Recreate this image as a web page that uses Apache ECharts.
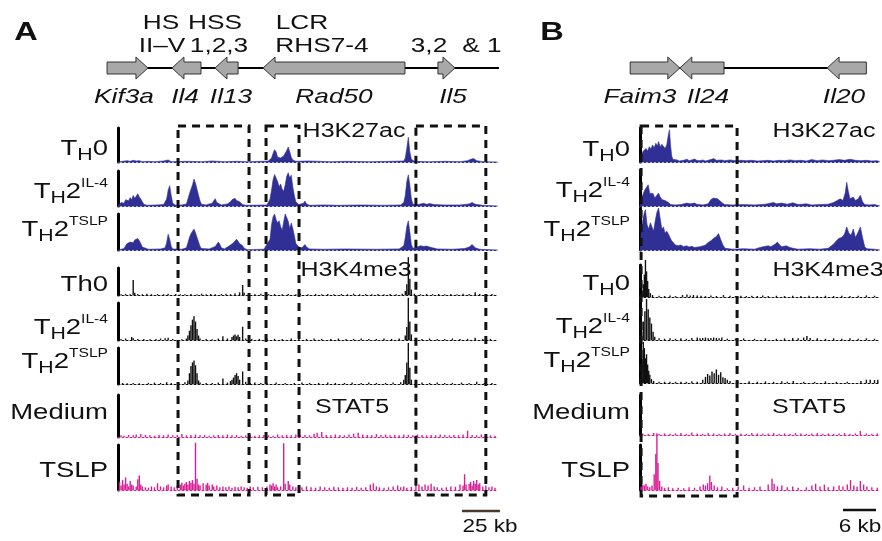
<!DOCTYPE html>
<html>
<head>
<meta charset="utf-8">
<script src="https://cdn.jsdelivr.net/npm/echarts@6/dist/echarts.min.js"></script>
<style>
html, body { margin: 0; padding: 0; background: #fff; }
#c { width: 882px; height: 541px; }
</style>
</head>
<body>
<div id="c"></div>
<script>
// ---- panel A (Il4/Il13/Rad50/Il5 locus), x in kb, y in % of track height ----
var A_K27_TH0 = [[0,0],[3,2],[6,4],[8,2],[10,5],[12,3],[14,4],[16,1],[20,2],[24,1],[30,3],[33,6],[35,1],[45,2],[55,1],[62,3],[70,1],[78,2],[85,1],[95,2],[99,3],[101,12],[102,25],[103,36],[104,30],[105,14],[106,16],[107,12],[109,18],[110,22],[111,34],[112,44],[113,30],[114,14],[115,6],[117,2],[125,3],[140,1],[150,2],[165,1],[180,2],[188,3],[189,12],[190,40],[191,73],[192,30],[193,8],[195,2],[205,1],[215,2],[225,1],[230,4],[232,8],[234,10],[236,4],[240,1],[250,0]];
var A_K27_IL4 = [[0,0],[1,3],[2,10],[3,14],[4,8],[5,18],[6,22],[7,15],[8,24],[9,18],[10,30],[11,22],[12,28],[13,35],[14,26],[15,20],[16,12],[17,5],[19,2],[25,3],[30,4],[32,20],[33,45],[34,58],[35,30],[36,8],[38,2],[42,3],[45,6],[46,20],[47,35],[48,48],[49,60],[50,77],[51,65],[52,48],[53,30],[54,14],[55,5],[58,3],[60,6],[62,8],[63,15],[64,21],[65,10],[66,5],[68,3],[72,6],[74,12],[75,18],[76,14],[77,22],[78,16],[79,20],[80,12],[81,8],[82,4],[84,2],[98,3],[100,20],[101,45],[102,75],[103,90],[104,95],[105,70],[106,55],[107,63],[108,48],[109,42],[110,60],[111,85],[112,95],[113,80],[114,88],[115,55],[116,30],[117,12],[119,4],[122,8],[123,14],[124,6],[126,2],[135,3],[145,2],[160,3],[175,2],[186,3],[188,10],[189,30],[190,70],[191,89],[192,60],[193,20],[194,6],[196,3],[199,6],[201,8],[203,5],[205,7],[208,4],[215,3],[225,3],[231,6],[233,10],[235,5],[240,2],[250,0]];
var A_K27_TSLP = [[0,0],[4,4],[5,12],[6,18],[7,14],[8,22],[9,26],[10,20],[11,28],[12,24],[13,32],[14,26],[15,18],[16,8],[17,3],[20,2],[28,3],[31,6],[32,20],[33,44],[34,30],[35,10],[36,3],[42,2],[45,6],[46,20],[47,35],[48,45],[49,52],[50,58],[51,48],[52,35],[53,22],[54,10],[55,4],[60,3],[64,10],[66,22],[67,16],[68,6],[70,3],[72,8],[74,14],[76,20],[77,25],[78,30],[79,24],[80,18],[81,22],[82,12],[83,5],[85,1],[96,2],[100,30],[101,70],[102,92],[103,100],[104,85],[105,75],[106,81],[107,65],[108,55],[109,78],[110,100],[111,95],[112,80],[113,60],[114,75],[115,60],[116,40],[117,18],[119,8],[121,6],[123,15],[124,8],[126,3],[135,2],[150,3],[170,2],[185,3],[188,12],[189,35],[190,65],[191,81],[192,50],[193,15],[194,5],[197,8],[199,12],[201,10],[203,11],[205,8],[207,6],[210,3],[220,2],[228,4],[231,8],[233,15],[235,6],[238,2],[250,0]];
var A_K4_TH0 = [[2,3],[5,4],[8,3],[10,56],[11,8],[13,4],[16,3],[19,5],[22,3],[26,4],[30,3],[33,5],[38,4],[41,3],[44,3],[48,4],[52,3],[55,5],[58,3],[61,4],[64,3],[68,4],[71,5],[74,3],[77,6],[80,10],[82,37],[83,8],[86,4],[90,3],[94,5],[99,3],[103,4],[108,3],[112,4],[117,3],[120,5],[125,3],[130,4],[134,3],[138,4],[142,3],[147,4],[151,3],[155,5],[159,3],[163,4],[167,3],[171,4],[175,3],[179,4],[183,3],[187,5],[189,15],[190,40],[191,140],[192,60],[193,20],[195,5],[199,3],[203,4],[207,3],[211,4],[215,3],[219,4],[223,3],[227,5],[231,4],[235,10],[238,4],[242,3],[246,4]];
var A_K4_IL4 = [[2,3],[5,4],[9,8],[10,5],[13,3],[17,3],[21,2],[25,3],[28,4],[31,5],[33,6],[36,3],[42,2],[45,4],[46,12],[47,25],[48,40],[49,55],[50,64],[51,50],[52,30],[53,12],[54,4],[58,3],[62,2],[66,4],[69,10],[72,4],[75,8],[76,12],[77,15],[78,10],[79,14],[80,8],[82,36],[84,4],[88,3],[93,3],[98,4],[103,3],[108,3],[114,4],[119,3],[124,3],[129,4],[134,3],[140,3],[145,4],[150,3],[155,3],[160,4],[165,3],[170,3],[175,4],[180,3],[185,4],[189,12],[190,35],[191,114],[192,50],[193,15],[196,4],[200,3],[205,4],[210,3],[215,3],[220,4],[225,3],[230,3],[235,6],[240,3],[245,3]];
var A_K4_TSLP = [[3,3],[6,2],[10,3],[14,2],[20,3],[24,4],[28,3],[32,5],[35,3],[40,3],[44,5],[46,10],[47,30],[48,50],[49,60],[50,65],[51,52],[52,30],[53,10],[54,4],[58,3],[62,3],[66,4],[69,15],[72,4],[74,8],[75,12],[76,18],[77,25],[78,30],[79,22],[80,12],[82,35],[84,6],[87,3],[90,4],[94,3],[98,3],[104,4],[110,3],[116,3],[121,4],[126,3],[132,3],[138,4],[143,3],[149,3],[154,4],[160,3],[165,4],[170,3],[176,3],[181,4],[186,5],[188,12],[189,25],[190,60],[191,114],[192,45],[193,12],[196,4],[200,4],[205,3],[210,4],[215,3],[220,3],[226,4],[231,3],[236,6],[241,3],[246,3]];
var A_STAT5_MED = [[2,4],[4,3],[7,5],[10,4],[12,6],[15,7],[18,5],[21,4],[24,3],[27,5],[30,4],[33,6],[36,4],[39,5],[42,7],[45,4],[48,5],[51,6],[54,4],[57,5],[60,3],[63,4],[66,5],[69,4],[72,6],[75,4],[78,5],[81,3],[84,4],[87,5],[90,3],[93,4],[96,5],[99,4],[102,3],[105,6],[108,4],[111,5],[114,4],[117,6],[120,4],[123,5],[126,4],[129,8],[131,10],[134,12],[137,5],[140,4],[143,6],[146,5],[149,4],[152,6],[155,8],[158,10],[161,6],[164,5],[167,4],[170,7],[173,5],[176,6],[179,4],[182,5],[185,4],[188,6],[191,5],[194,4],[197,6],[200,5],[203,4],[206,5],[209,4],[212,6],[215,5],[218,4],[221,5],[224,4],[227,6],[230,15],[233,5],[236,4],[239,6],[242,5],[245,4],[248,3]];
var A_STAT5_TSLP = [[1,18],[2,10],[3,22],[4,12],[5,28],[6,14],[7,8],[8,20],[9,12],[10,10],[12,8],[13,24],[14,32],[15,12],[16,8],[18,6],[20,5],[22,8],[24,6],[26,15],[28,8],[30,6],[32,10],[33,12],[35,8],[37,6],[39,10],[41,12],[42,16],[43,10],[44,14],[45,18],[46,12],[47,20],[48,16],[49,22],[50,14],[51,105],[52,25],[53,12],[54,10],[56,15],[58,12],[59,16],[60,10],[62,12],[63,8],[65,10],[67,6],[69,8],[71,6],[73,8],[75,5],[77,7],[79,6],[81,8],[83,6],[85,5],[87,8],[89,6],[92,7],[95,6],[98,8],[100,12],[101,10],[102,15],[103,8],[104,12],[105,6],[107,8],[109,104],[110,14],[112,20],[113,12],[115,8],[117,6],[119,10],[121,6],[124,8],[127,6],[130,5],[133,8],[136,6],[139,5],[142,7],[145,6],[148,5],[151,6],[154,5],[157,7],[160,5],[163,6],[166,12],[168,15],[170,8],[172,6],[175,5],[178,6],[181,8],[184,10],[186,6],[188,8],[190,5],[193,7],[196,10],[198,12],[200,8],[202,12],[204,10],[206,14],[208,8],[210,6],[213,5],[216,6],[219,8],[222,7],[225,12],[227,10],[228,35],[229,12],[231,14],[232,18],[233,10],[234,20],[235,14],[236,22],[237,12],[238,15],[240,8],[242,10],[244,6],[246,8],[248,5]];

// ---- panel B (Faim3/Il24/Il20 locus) ----
var B_K27_TH0 = [[0,0],[0.2,15],[0.5,30],[0.8,35],[1.1,40],[1.4,32],[1.7,45],[2.0,38],[2.3,50],[2.6,42],[2.9,55],[3.2,48],[3.4,60],[3.7,45],[4.0,52],[4.3,55],[4.6,40],[4.9,50],[5.2,80],[5.4,95],[5.6,50],[5.8,20],[6.0,8],[6.3,3],[6.8,6],[7.2,3],[8,5],[8.6,8],[9,4],[9.5,6],[10,9],[10.4,5],[11,4],[11.5,6],[12,3],[13,7],[13.5,10],[14,5],[15,6],[15.5,4],[16.5,6],[17.5,4],[18.5,5],[19.5,4],[20.5,5],[21.5,3],[22.5,4],[23.5,5],[24.5,3],[25.5,5],[26.5,4],[27.5,6],[28.5,4],[29.5,5],[30.5,3],[31.5,7],[32.5,4],[33.5,6],[34.5,4],[35.5,5],[36.5,7],[37.5,5],[38.5,8],[39.5,5],[40.5,4],[41.5,5],[42.5,3],[43.5,4],[44,0]];
var B_K27_IL4 = [[0,0],[0.3,20],[0.6,35],[0.9,45],[1.2,40],[1.5,59],[1.8,35],[2.1,30],[2.4,35],[2.7,22],[3.0,28],[3.4,36],[3.7,25],[4.0,18],[4.3,22],[4.6,15],[4.9,20],[5.2,10],[5.6,4],[6.5,3],[7.5,4],[8.6,8],[9.2,6],[10,8],[10.4,5],[11.5,3],[12.5,6],[13,18],[13.5,22],[13.8,27],[14.2,20],[14.6,15],[15,10],[15.5,4],[17,3],[19,4],[21,3],[23,5],[24.5,10],[25,6],[26,8],[27,5],[28,9],[29,4],[30.5,6],[31.5,3],[33,4],[34.5,5],[35.5,10],[36,14],[36.7,20],[37.2,15],[37.6,35],[37.9,66],[38.2,40],[38.5,20],[39.1,25],[39.5,15],[40,20],[40.4,30],[40.8,12],[41.2,4],[42,3],[43,4],[44,0]];
var B_K27_TSLP = [[0,0],[0.2,40],[0.5,70],[0.8,90],[1.0,96],[1.3,60],[1.6,50],[1.9,65],[2.2,55],[2.5,45],[2.8,70],[3.1,90],[3.4,100],[3.7,75],[4.0,50],[4.3,55],[4.6,40],[4.9,45],[5.2,38],[5.5,30],[5.8,22],[6.1,18],[6.5,12],[7,10],[7.5,12],[8,8],[8.5,10],[9,7],[9.5,9],[10,6],[11,8],[11.6,10],[12,12],[12.5,18],[13,22],[13.5,28],[14,32],[14.4,39],[14.8,25],[15.2,12],[15.6,4],[17,2],[19,3],[21,2],[22,6],[22.6,8],[23.5,10],[24,8],[24.8,14],[25.2,19],[25.6,12],[26,8],[26.8,10],[27.5,6],[28.1,4],[29,2],[31,3],[33,2],[34.5,4],[35.5,14],[36,22],[36.5,28],[37,30],[37.5,38],[37.9,55],[38.3,40],[38.7,35],[39.1,50],[39.5,30],[39.9,40],[40.4,55],[40.8,30],[41.2,8],[41.6,3],[43,2],[44,0]];
var B_K4_TH0 = [[0.4,20],[0.6,40],[0.8,70],[1.0,116],[1.2,80],[1.4,50],[1.6,25],[1.9,12],[2.3,6],[3.5,4],[4.5,3],[5.5,5],[6.5,3],[7.8,6],[8.6,8],[9.2,5],[9.8,6],[10.5,5],[11.2,4],[12,3],[13,5],[14,3],[15.3,6],[16.5,4],[17.5,3],[18.5,4],[19.5,3],[20.5,4],[21.5,3],[22.5,5],[23.5,3],[25,4],[26.5,3],[28,4],[29.5,3],[31,4],[32.5,3],[34,4],[35.5,3],[37,4],[38.5,3],[40,4],[41.5,5],[43,4]];
var B_K4_IL4 = [[0.3,20],[0.6,45],[0.9,70],[1.2,100],[1.5,75],[1.8,55],[2.1,40],[2.4,20],[2.7,8],[3.5,4],[4.5,3],[5.5,4],[6.5,3],[7.5,4],[8.5,3],[9.5,5],[10.5,6],[11,4],[11.5,5],[12,6],[12.5,4],[13,5],[13.5,6],[14,5],[14.5,4],[15,6],[16,3],[17.5,3],[19,4],[21,3],[23,4],[25,3],[26.5,4],[28,5],[29,4],[30,6],[30.6,10],[31.2,5],[32.5,4],[34,3],[35.5,4],[37,3],[38.5,4],[40,3],[41.5,4],[43,3]];
var B_K4_TSLP = [[0.2,25],[0.4,60],[0.6,100],[0.8,85],[1.0,60],[1.2,70],[1.4,45],[1.6,30],[1.8,20],[2.1,10],[2.5,5],[3.5,3],[4.5,3],[5.5,3],[6.5,3],[7.5,3],[8.5,3],[9.5,4],[10.5,3],[11.5,8],[12,15],[12.4,22],[12.8,18],[13.2,28],[13.6,24],[14,33],[14.4,20],[14.8,26],[15.2,14],[15.6,12],[16,8],[16.5,5],[18,3],[20,4],[21.5,3],[23,4],[24.5,3],[26,4],[27,3],[28.1,5],[30,3],[32,3],[34,4],[36,3],[38,3],[40.5,5],[41.5,8],[42.2,8],[43,7],[43.6,8]];
var B_STAT5_MED = [[0.5,4],[1.5,3],[2.5,5],[3.5,3],[4.5,4],[5.5,3],[6.5,4],[7.5,5],[8.5,3],[9.5,6],[10.5,4],[11.5,3],[12.5,5],[13.5,4],[14.5,3],[15.5,4],[16.5,5],[17.5,3],[18.5,4],[19.5,3],[20.5,5],[21.5,4],[22.5,3],[23.5,4],[24.5,5],[25.5,3],[26.5,4],[27.5,3],[28.5,5],[29.5,4],[30.5,3],[31.5,4],[32.5,5],[33.5,3],[34.5,4],[35.5,3],[36.5,4],[37.5,5],[38.5,3],[39.5,4],[40.4,10],[41.5,4],[42.5,3],[43.5,4]];
var B_STAT5_TSLP = [[0.2,8],[0.5,12],[0.8,10],[1.1,14],[1.4,8],[1.8,6],[2.2,10],[2.6,35],[2.9,80],[3.1,126],[3.3,60],[3.6,20],[4.0,8],[4.5,5],[5.2,6],[6,4],[7,5],[8,4],[9,6],[10,5],[11,8],[11.6,12],[12,10],[12.4,15],[12.8,32],[13.1,18],[13.6,10],[14.2,6],[15,8],[16,4],[17,5],[18,8],[19,10],[20,5],[21,6],[22,8],[23.5,12],[24.2,25],[24.6,14],[25.2,8],[26,10],[27,6],[28,8],[29,5],[30.5,6],[31.5,10],[32.2,14],[33,8],[33.8,12],[34.5,6],[35.5,8],[36.5,10],[37.2,8],[38,12],[38.6,22],[39.2,10],[39.8,8],[40.4,20],[41,12],[41.6,8],[42.5,6],[43.5,5]];

// genes: [start kb, end kb, strand]
var GENES_A = [[-7.2,19.7,1],[35.5,54.6,-1],[63.8,79,-1],[95.4,188.8,-1],[210.5,221.7,1]];
var GENES_B = [[-1.8,7.3,1],[7.3,15.4,-1],[34.3,41.5,-1]];
var LOCUS_A = [-7.2, 251.3];
var LOCUS_B = [-1.8, 41.5];
// dashed highlight boxes, kb ranges
var BOXES_A = [[39.5,86.2],[97.4,119.1],[196,242]];
var BOXES_B = [[0.2,17.8]];

var TRACK_LABELS = ['TH0','TH2IL4','TH2TSLP','Th0','TH2IL4','TH2TSLP','Medium','TSLP'];
var TRACK_LABELS_B = ['TH0','TH2IL4','TH2TSLP','TH0','TH2IL4','TH2TSLP','Medium','TSLP'];

var FONT = '"Liberation Sans", Arial, sans-serif';
var SX = 1.25; // the figure is horizontally stretched
var BLUE = '#2f2f96', BLACK = '#111111', PINK = '#d81f95';
var COLORS = [BLUE, BLUE, BLUE, BLACK, BLACK, BLACK, PINK, PINK];
var KINDS = ['area','area','area','bar','bar','bar','bar','bar'];

var GEOM_A = [[128,162],[171,206],[214,250],[268,295],[303,340],[348,384],[395,437],[445,490]];
var GEOM_B = [[128,162],[170,206],[208,250],[265,297],[299,340],[342,383],[395,435],[445,490]];
var LABEL_Y_A = [149,192,230,285,328,362,413,471];
var LABEL_Y_B = [150,191,230,284,327,361,413,471];

var grid = [], xAxis = [], yAxis = [], series = [];

function addTracks(left, width, kbMax, geom, data) {
  geom.forEach(function (g, i) {
    var idx = grid.length;
    grid.push({ left: left, top: g[0], width: width, height: g[1] - g[0] });
    xAxis.push({
      gridIndex: idx, type: 'value', min: 0, max: kbMax,
      axisLine: { show: true, onZero: false, lineStyle: { color: COLORS[i], width: 1, type: [2, 2] } },
      axisTick: { show: false }, axisLabel: { show: false }, splitLine: { show: false }
    });
    yAxis.push({
      gridIndex: idx, type: 'value', min: 0, max: 100, offset: 3,
      axisLine: { show: true, lineStyle: { color: '#000', width: 3 } },
      axisTick: { show: false }, axisLabel: { show: false }, splitLine: { show: false }
    });
    if (KINDS[i] === 'area') {
      series.push({
        type: 'line', xAxisIndex: idx, yAxisIndex: idx, data: data[i], symbol: 'none',
        clip: false, lineStyle: { color: COLORS[i], width: 0.6 },
        areaStyle: { color: COLORS[i], opacity: 1 }
      });
    } else {
      series.push({
        type: 'bar', xAxisIndex: idx, yAxisIndex: idx, data: data[i], barWidth: 1.4,
        clip: false, itemStyle: { color: COLORS[i] }
      });
    }
  });
}

function geneItem(params, api) {
  var s = api.coord([api.value(0), 0.5]);
  var e = api.coord([api.value(1), 0.5]);
  var y = s[1], bh = 6, hh = 11, hl = 12;
  var x0 = s[0], x1 = e[0], pts;
  if (api.value(2) > 0) {
    pts = [[x0, y - bh], [x1 - hl, y - bh], [x1 - hl, y - hh], [x1, y], [x1 - hl, y + hh], [x1 - hl, y + bh], [x0, y + bh]];
  } else {
    pts = [[x1, y - bh], [x0 + hl, y - bh], [x0 + hl, y - hh], [x0, y], [x0 + hl, y + hh], [x0 + hl, y + bh], [x1, y + bh]];
  }
  return { type: 'polygon', shape: { points: pts }, style: { fill: '#a8a8a8', stroke: '#333', lineWidth: 1 } };
}

function addGenes(left, width, kbMax, genes, locus) {
  var idx = grid.length;
  grid.push({ left: left, top: 55, width: width, height: 26 });
  xAxis.push({ gridIndex: idx, type: 'value', min: 0, max: kbMax, show: false });
  yAxis.push({ gridIndex: idx, type: 'value', min: 0, max: 1, show: false });
  series.push({
    type: 'line', xAxisIndex: idx, yAxisIndex: idx, symbol: 'none', clip: false, z: 1,
    data: [[locus[0], 0.5], [locus[1], 0.5]], lineStyle: { color: '#000', width: 2 }
  });
  series.push({
    type: 'custom', xAxisIndex: idx, yAxisIndex: idx, clip: false, z: 10,
    data: genes, renderItem: geneItem
  });
}

addTracks(118, 380, 250, GEOM_A,
  [A_K27_TH0, A_K27_IL4, A_K27_TSLP, A_K4_TH0, A_K4_IL4, A_K4_TSLP, A_STAT5_MED, A_STAT5_TSLP]);
addTracks(640, 240, 44, GEOM_B,
  [B_K27_TH0, B_K27_IL4, B_K27_TSLP, B_K4_TH0, B_K4_IL4, B_K4_TSLP, B_STAT5_MED, B_STAT5_TSLP]);
addGenes(118, 380, 250, GENES_A, LOCUS_A);
addGenes(640, 240, 44, GENES_B, LOCUS_B);

var chart = echarts.init(document.getElementById('c'));
chart.setOption({ animation: false, grid: grid, xAxis: xAxis, yAxis: yAxis, series: series });

// ---- annotations ----
var RICH = {
  t: { fontSize: 22, fontFamily: FONT, lineHeight: 30, fill: '#111' },
  s: { fontSize: 17, fontFamily: FONT, lineHeight: 15, verticalAlign: 'bottom', fill: '#111' },
  p: { fontSize: 12.5, fontFamily: FONT, lineHeight: 13, verticalAlign: 'top', fill: '#111' }
};
var LABEL_TEXT = {
  TH0: '{t|T}{s|H}{t|0}',
  TH2IL4: '{t|T}{s|H}{t|2}{p|IL-4}',
  TH2TSLP: '{t|T}{s|H}{t|2}{p|TSLP}',
  Th0: '{t|Th0}', Medium: '{t|Medium}', TSLP: '{t|TSLP}'
};

function txt(x, y, s, size, opt) {
  opt = opt || {};
  return {
    type: 'text', x: x, y: y, scaleX: SX, z: 50,
    style: {
      text: s, fill: '#111', align: opt.align || 'center', verticalAlign: 'middle',
      font: (opt.italic ? 'italic ' : '') + (opt.bold ? 'bold ' : '') + size + 'px ' + FONT
    }
  };
}

var g = [];
g.push(txt(26, 33, 'A', 26, { bold: true }));
g.push(txt(552, 33, 'B', 26, { bold: true }));
[['HS',161,23],['HSS',215,23],['II\u2013V',162,46],['1,2,3',219,46],['LCR',302,23],['RHS7-4',322,46],['3,2',429,46],['& 1',482,46]]
  .forEach(function (a) { g.push(txt(a[1], a[2], a[0], 21)); });
[['Kif3a',124],['Il4',185],['Il13',231],['Rad50',334],['Il5',453],['Faim3',640],['Il24',708],['Il20',844]]
  .forEach(function (a) { g.push(txt(a[1], 97, a[0], 21, { italic: true })); });
g.push(txt(354, 131, 'H3K27ac', 20));
g.push(txt(824, 131, 'H3K27ac', 20));
g.push(txt(356, 270, 'H3K4me3', 20));
g.push(txt(828, 270, 'H3K4me3', 20));
g.push(txt(352, 407, 'STAT5', 20));
g.push(txt(809, 407, 'STAT5', 20));

function addLabels(xRight, keys, ys) {
  keys.forEach(function (k, i) {
    g.push({
      type: 'text', x: xRight, y: ys[i], scaleX: SX, z: 50,
      style: { text: LABEL_TEXT[k], rich: RICH, align: 'right', verticalAlign: 'middle', fill: '#111' }
    });
  });
}
addLabels(108, TRACK_LABELS, LABEL_Y_A);
addLabels(630, TRACK_LABELS_B, LABEL_Y_B);

function addBoxes(axisIdx, boxes, top, bottom) {
  boxes.forEach(function (b) {
    var x0 = chart.convertToPixel({ xAxisIndex: axisIdx }, b[0]);
    var x1 = chart.convertToPixel({ xAxisIndex: axisIdx }, b[1]);
    g.push({
      type: 'rect', z: 60, silent: true,
      shape: { x: x0, y: top, width: x1 - x0, height: bottom - top },
      style: { fill: 'none', stroke: '#111', lineWidth: 3, lineDash: [8, 6] }
    });
  });
}
addBoxes(0, BOXES_A, 126, 495);
addBoxes(8, BOXES_B, 126, 496);

// scale bars
g.push({ type: 'line', z: 50, shape: { x1: 462, y1: 511, x2: 500, y2: 511 }, style: { stroke: '#4a3a2c', lineWidth: 2.5 } });
g.push(txt(490, 527, '25 kb', 18));
g.push({ type: 'line', z: 50, shape: { x1: 843, y1: 510, x2: 876, y2: 510 }, style: { stroke: '#111', lineWidth: 2.5 } });
g.push(txt(860, 527, '6 kb', 18));

chart.setOption({ graphic: g });
</script>
</body>
</html>
